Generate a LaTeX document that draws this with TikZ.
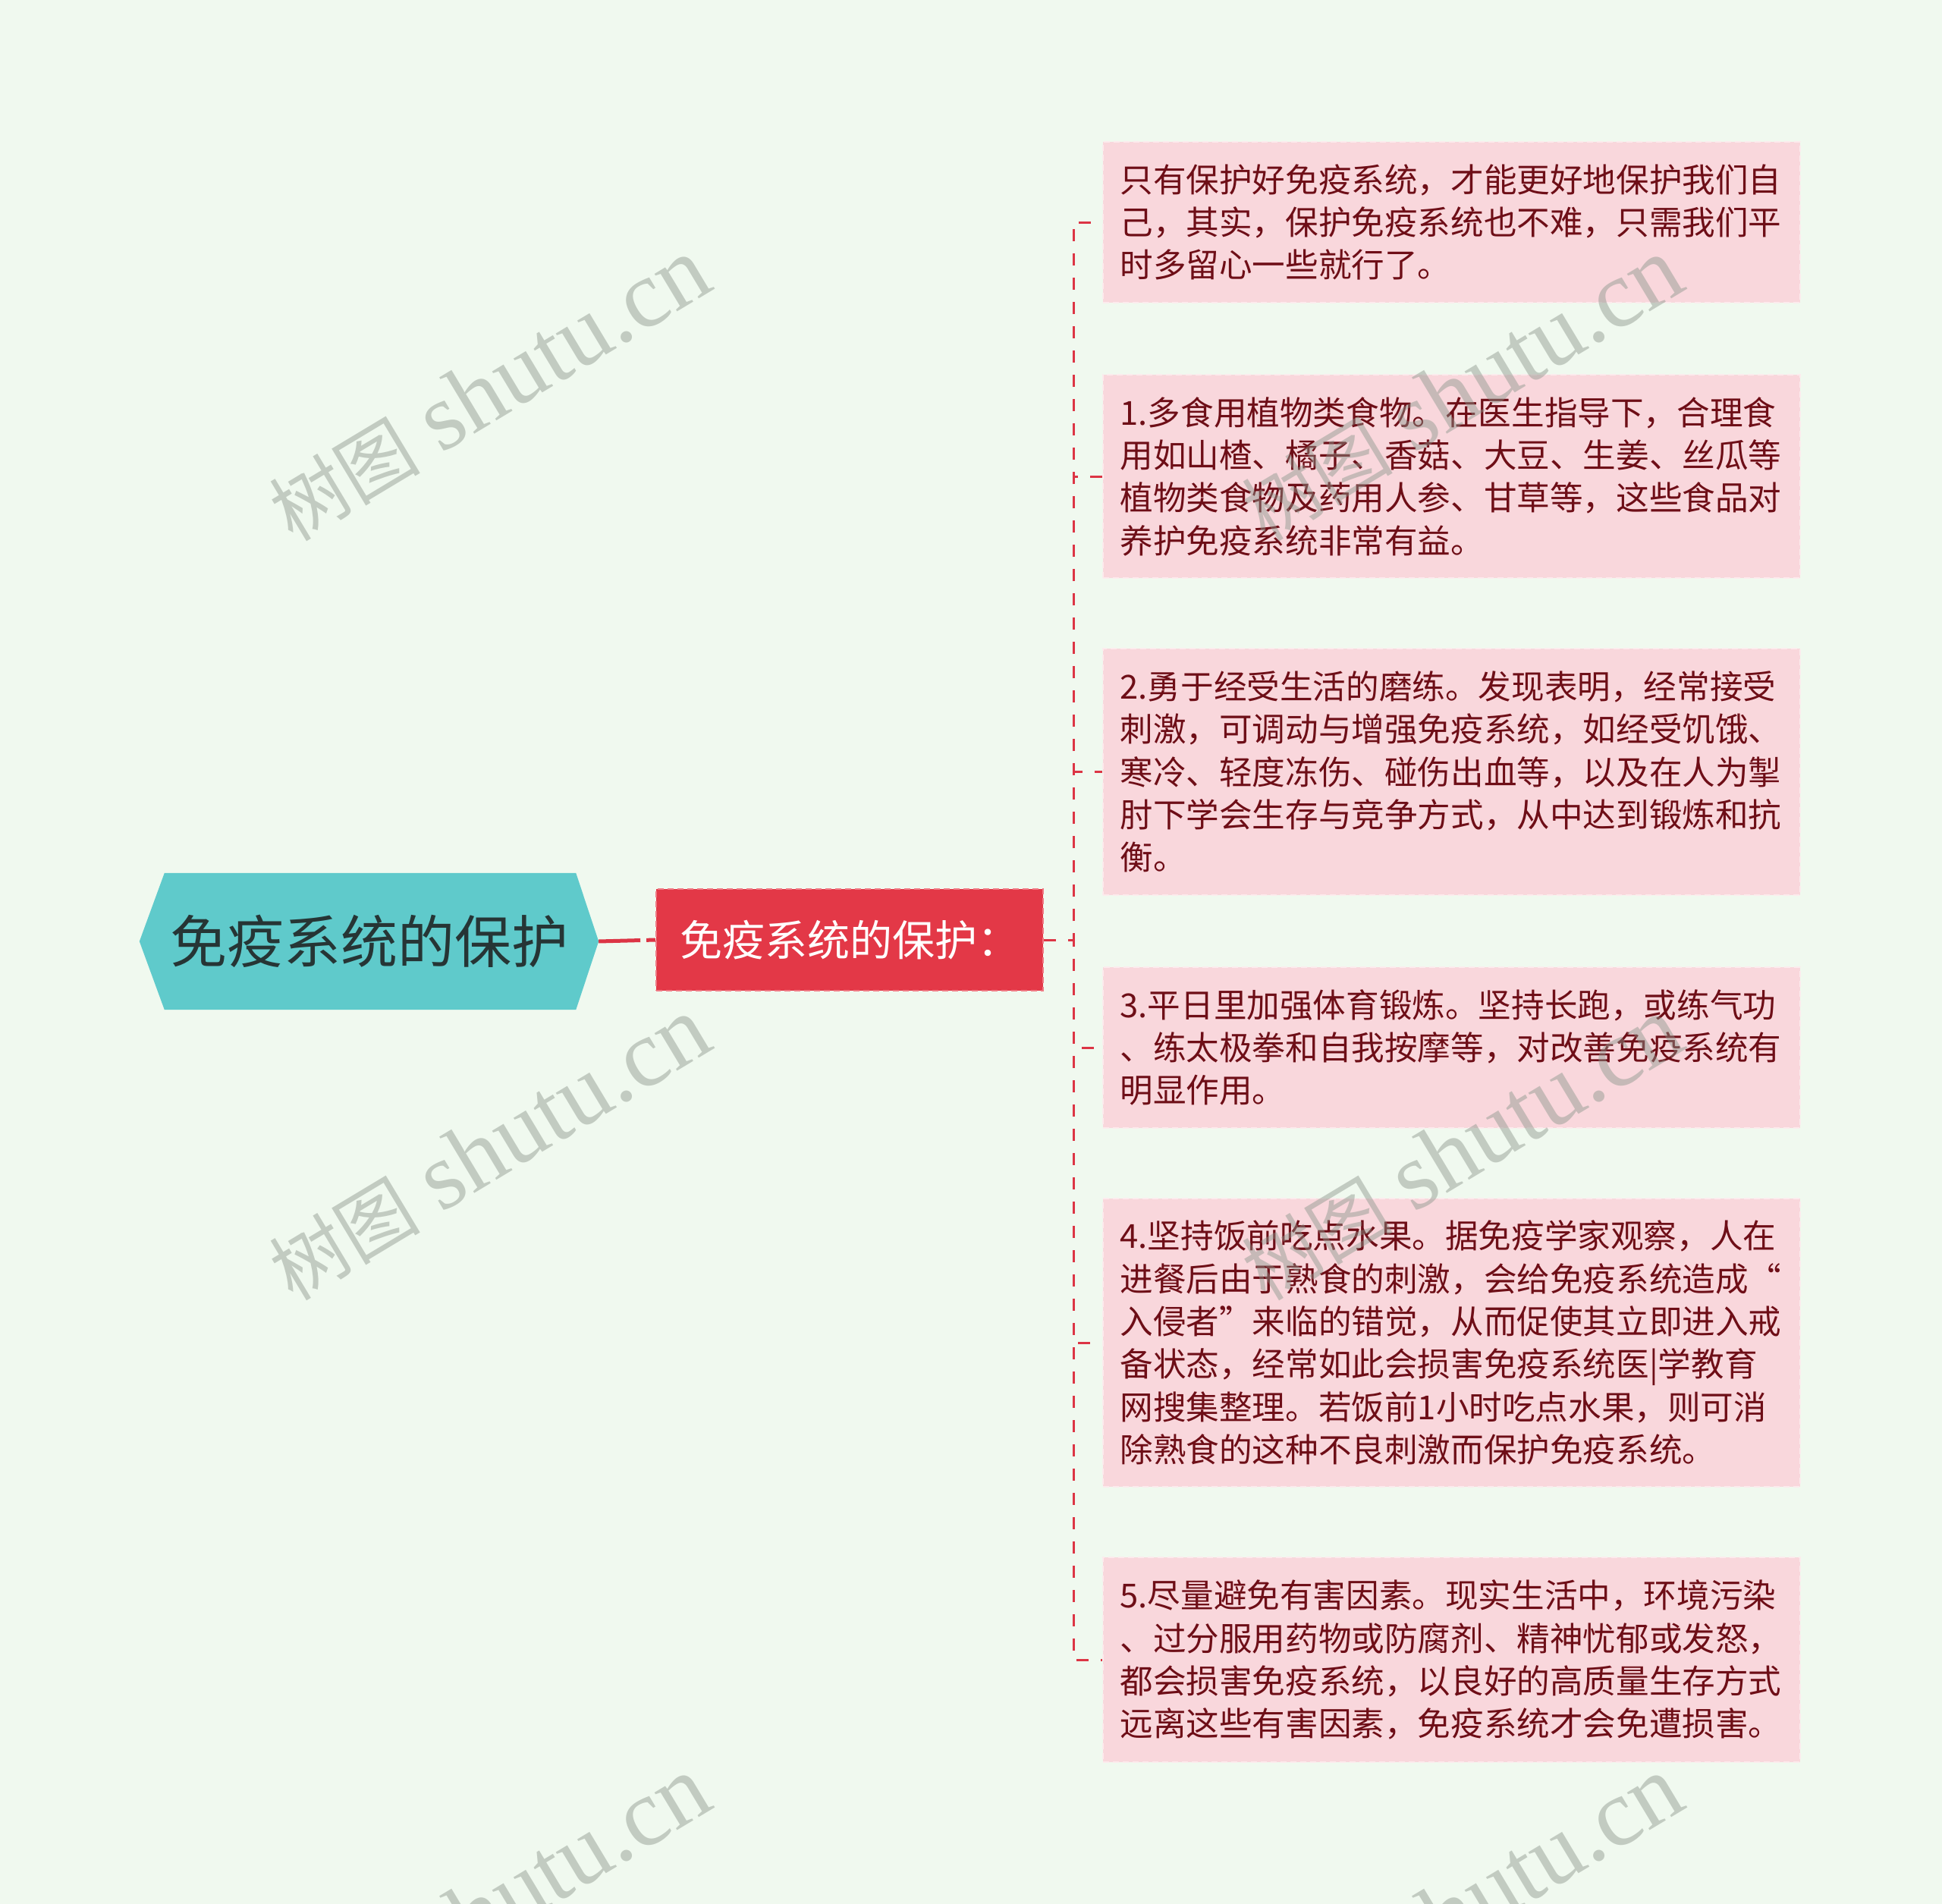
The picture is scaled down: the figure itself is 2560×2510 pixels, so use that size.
\documentclass[tikz,border=0pt]{standalone}
\usepackage{fontspec}
\setmainfont{Noto Sans CJK SC}
\newfontfamily\cjk{Noto Sans CJK SC}
\newfontfamily\wmserif{Liberation Serif}
\usetikzlibrary{backgrounds}
\definecolor{bgc}{HTML}{F0F9EF}
\definecolor{rootfill}{HTML}{5FCACB}
\definecolor{redbox}{HTML}{E33847}
\definecolor{redborder}{HTML}{F07A85}
\definecolor{linered}{HTML}{DC3545}
\definecolor{leafpink}{HTML}{F9D7DC}
\definecolor{leafborder}{HTML}{FCEBED}
\definecolor{leaftext}{HTML}{6E0E17}
\definecolor{roottext}{HTML}{263535}
\definecolor{wmc}{HTML}{8A958A}
\newcommand{\wmark}{{\cjk\fontsize{100}{120}\selectfont 树图}\hspace{28pt}{\wmserif\fontsize{126}{130}\selectfont shutu.cn}}
\tikzset{
  rootnode/.style={inner sep=0pt, minimum width=605pt, minimum height=180pt,
    text=roottext, font=\cjk\fontsize{75}{90}\selectfont},
  subnode/.style={fill=redbox, draw=redborder, line width=2pt, dash pattern=on 8pt off 5pt,
    inner sep=0pt, minimum width=510pt, minimum height=134pt,
    text=white, font=\cjk\fontsize{56}{68}\selectfont},
  leafnode/.style={fill=leafpink, draw=leafborder, line width=2pt, dash pattern=on 8pt off 5pt,
    anchor=north west, inner xsep=22.5pt, inner ysep=0pt, text width=874pt, align=left,
    text=leaftext, font=\cjk\fontsize{43.6}{56.3}\selectfont},
  rootline/.style={draw=linered, line width=5pt, dash pattern=on 55pt off 8pt on 30pt},
  branchline/.style={draw=linered, line width=3pt, dash pattern=on 16pt off 16pt},
  wmtext/.style={rotate=31, text=wmc, text opacity=0.45}
}
\begin{document}
\begin{tikzpicture}[x=1pt, y=-1pt]
\useasboundingbox (0,0) rectangle (2560,2510);
\begin{pgfonlayer}{background}
\fill[bgc] (0,0) rectangle (2560,2510);
\end{pgfonlayer}

\node[rootnode] (root) at (486.5,1241) {免疫系统的保护};
\begin{pgfonlayer}{background}
\fill[rootfill] (root.west) -- ([xshift=33pt]root.north west) -- ([xshift=-30pt]root.north east)
  -- (root.east) -- ([xshift=-30pt]root.south east) -- ([xshift=33pt]root.south west) -- cycle;
\end{pgfonlayer}

\node[subnode] (sub) at (1120,1239) {免疫系统的保护：};

\node[leafnode, minimum height=212pt] (l1) at (1453,186) {只有保护好免疫系统，才能更好地保护我们自\\己，其实，保护免疫系统也不难，只需我们平\\时多留心一些就行了。};
\node[leafnode, minimum height=268pt] (l2) at (1453,493) {1.多食用植物类食物。在医生指导下，合理食\\用如山楂、橘子、香菇、大豆、生姜、丝瓜等\\植物类食物及药用人参、甘草等，这些食品对\\养护免疫系统非常有益。};
\node[leafnode, minimum height=325pt] (l3) at (1453,854) {2.勇于经受生活的磨练。发现表明，经常接受\\刺激，可调动与增强免疫系统，如经受饥饿、\\寒冷、轻度冻伤、碰伤出血等，以及在人为掣\\肘下学会生存与竞争方式，从中达到锻炼和抗\\衡。};
\node[leafnode, minimum height=212pt] (l4) at (1453,1274) {3.平日里加强体育锻炼。坚持长跑，或练气功\\、练太极拳和自我按摩等，对改善免疫系统有\\明显作用。};
\node[leafnode, minimum height=380pt] (l5) at (1453,1579) {4.坚持饭前吃点水果。据免疫学家观察，人在\\进餐后由于熟食的刺激，会给免疫系统造成“\\入侵者”来临的错觉，从而促使其立即进入戒\\备状态，经常如此会损害免疫系统医|学教育\\网搜集整理。若饭前1小时吃点水果，则可消\\除熟食的这种不良刺激而保护免疫系统。};
\node[leafnode, minimum height=270pt] (l6) at (1453,2052) {5.尽量避免有害因素。现实生活中，环境污染\\、过分服用药物或防腐剂、精神忧郁或发怒，\\都会损害免疫系统，以良好的高质量生存方式\\远离这些有害因素，免疫系统才会免遭损害。};

\draw[rootline] (root.east) -- (sub.west);
\foreach \k in {l1,l2,l3,l4,l5,l6}
  \draw[branchline] (sub.east) -- ++(39,0) |- (\k.west);

\node[wmtext] (wm1) at (645,514) {\wmark};
\node[wmtext] (wm2) at (645,1515) {\wmark};
\node[wmtext] (wm3) at (1927,514) {\wmark};
\node[wmtext] (wm4) at (1927,1515) {\wmark};
\node[wmtext] (wm5) at (645,2516) {\wmark};
\node[wmtext] (wm6) at (1927,2516) {\wmark};
\end{tikzpicture}
\end{document}
